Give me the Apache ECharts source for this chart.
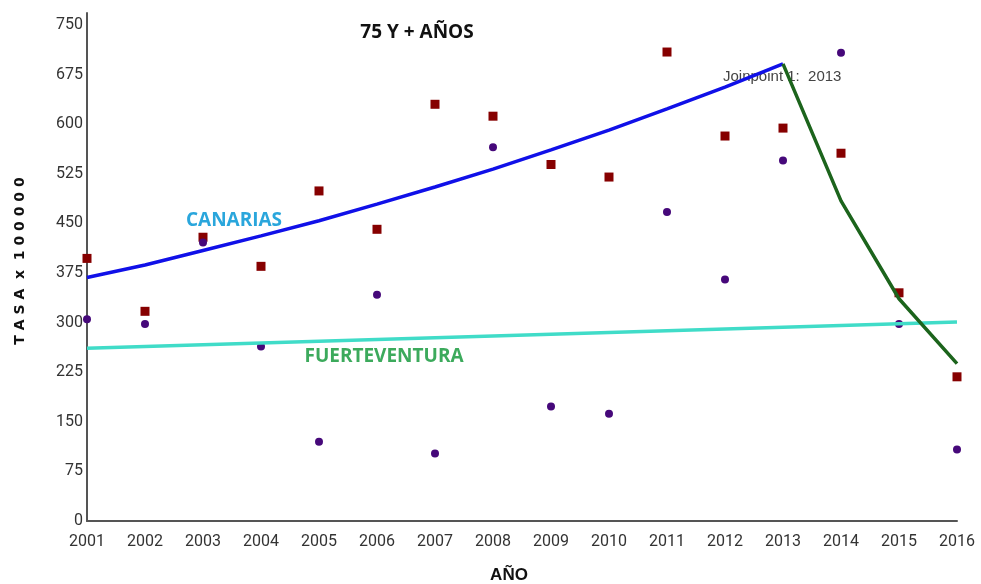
<!DOCTYPE html>
<html>
<head>
<meta charset="utf-8">
<script src="https://cdn.jsdelivr.net/npm/echarts@6/dist/echarts.min.js"></script>
<style>html,body{margin:0;padding:0;background:#fff}#c{width:981px;height:584px}</style>
</head>
<body>
<div id="c"></div>
<script>
// Data
const years = [2001,2002,2003,2004,2005,2006,2007,2008,2009,2010,2011,2012,2013,2014,2015,2016];
const canariasObs = [397,317,429,385,499,441,630,612,539,520,709,582,594,556,345,218];
const fuerteObs = [305,298,421,264,120,342,102,565,173,162,467,365,545,708,298,108];
const canariasFitYears = [2001,2002,2003,2004,2005,2006,2007,2008,2009,2010,2011,2012,2013];
const canariasFit1 = [368,387,409,431,454,479,505,532,561,591,623,656,691];
const canariasFit2Years = [2013,2014,2015,2016];
const canariasFit2 = [691,484,336,238];
const fuerteFitYears = [2001,2016];
const fuerteFit = [261,301];
const yTicks = [0,75,150,225,300,375,450,525,600,675,750];

const zip = (xs, ys) => xs.map((x, i) => [x, ys[i]]);

const chart = echarts.init(document.getElementById('c'));
chart.setOption({
  animation: false,
  backgroundColor: '#fff',
  grid: {left: 87, right: 24, top: 13, bottom: 63},
  xAxis: {
    type: 'value', min: 2001, max: 2016, interval: 1,
    splitLine: {show: false},
    axisTick: {show: false},
    axisLine: {show: true, lineStyle: {color: '#555', width: 2}},
    axisLabel: {formatter: v => String(v), color: '#333', fontSize: 16, fontFamily: 'Roboto', margin: 13}
  },
  yAxis: {
    type: 'value', min: 0, max: 768, interval: 75,
    splitLine: {show: false},
    axisTick: {show: false},
    axisLine: {show: true, lineStyle: {color: '#555', width: 2}},
    axisLabel: {showMaxLabel: false, color: '#333', fontSize: 16, fontFamily: 'Roboto', margin: 4,
      formatter: v => yTicks.indexOf(v) >= 0 ? String(v) : ''}
  },
  series: [
    {type: 'scatter', name: 'Canarias', data: zip(years, canariasObs), symbol: 'rect', symbolSize: 9,
      itemStyle: {color: '#860000', opacity: 1}, z: 2},
    {type: 'scatter', name: 'Fuerteventura', data: zip(years, fuerteObs), symbol: 'circle', symbolSize: 8,
      itemStyle: {color: '#46087a', opacity: 1}, z: 3},
    {type: 'line', data: zip(fuerteFitYears, fuerteFit), showSymbol: false, symbol: 'none',
      lineStyle: {color: '#40dcc8', width: 3.5}, z: 4},
    {type: 'line', data: zip(canariasFitYears, canariasFit1), showSymbol: false, symbol: 'none',
      lineStyle: {color: '#1010e8', width: 3.5}, z: 5},
    {type: 'line', data: zip(canariasFit2Years, canariasFit2), showSymbol: false, symbol: 'none',
      lineStyle: {color: '#1c641c', width: 3.5}, z: 5}
  ],
  graphic: [
    {type: 'text', x: 417, y: 33, style: {text: '75 Y + AÑOS', font: 'bold 19px "Open Sans"', fill: '#111', align: 'center', verticalAlign: 'middle'}},
    {type: 'text', x: 234, y: 221, style: {text: 'CANARIAS', font: 'bold 19px "Open Sans"', fill: '#2aa6dc', align: 'center', verticalAlign: 'middle'}},
    {type: 'text', x: 384, y: 357, style: {text: 'FUERTEVENTURA', font: 'bold 19px "Open Sans"', fill: '#3caa5c', align: 'center', verticalAlign: 'middle'}},
    {type: 'text', x: 723, y: 77, style: {text: 'Joinpoint 1:  2013', font: '15px "Liberation Sans"', fill: '#444', align: 'left', verticalAlign: 'middle'}},
    {type: 'text', x: 509, y: 575, style: {text: 'AÑO', font: 'bold 17px "Liberation Sans"', fill: '#111', align: 'center', verticalAlign: 'middle'}},
    {type: 'text', x: 20, y: 261, rotation: Math.PI / 2, style: {text: 'T A S A  x  1 0 0 0 0 0', font: 'bold 14px "DejaVu Sans"', fill: '#111', align: 'center', verticalAlign: 'middle'}}
  ]
});
</script>
</body>
</html>
